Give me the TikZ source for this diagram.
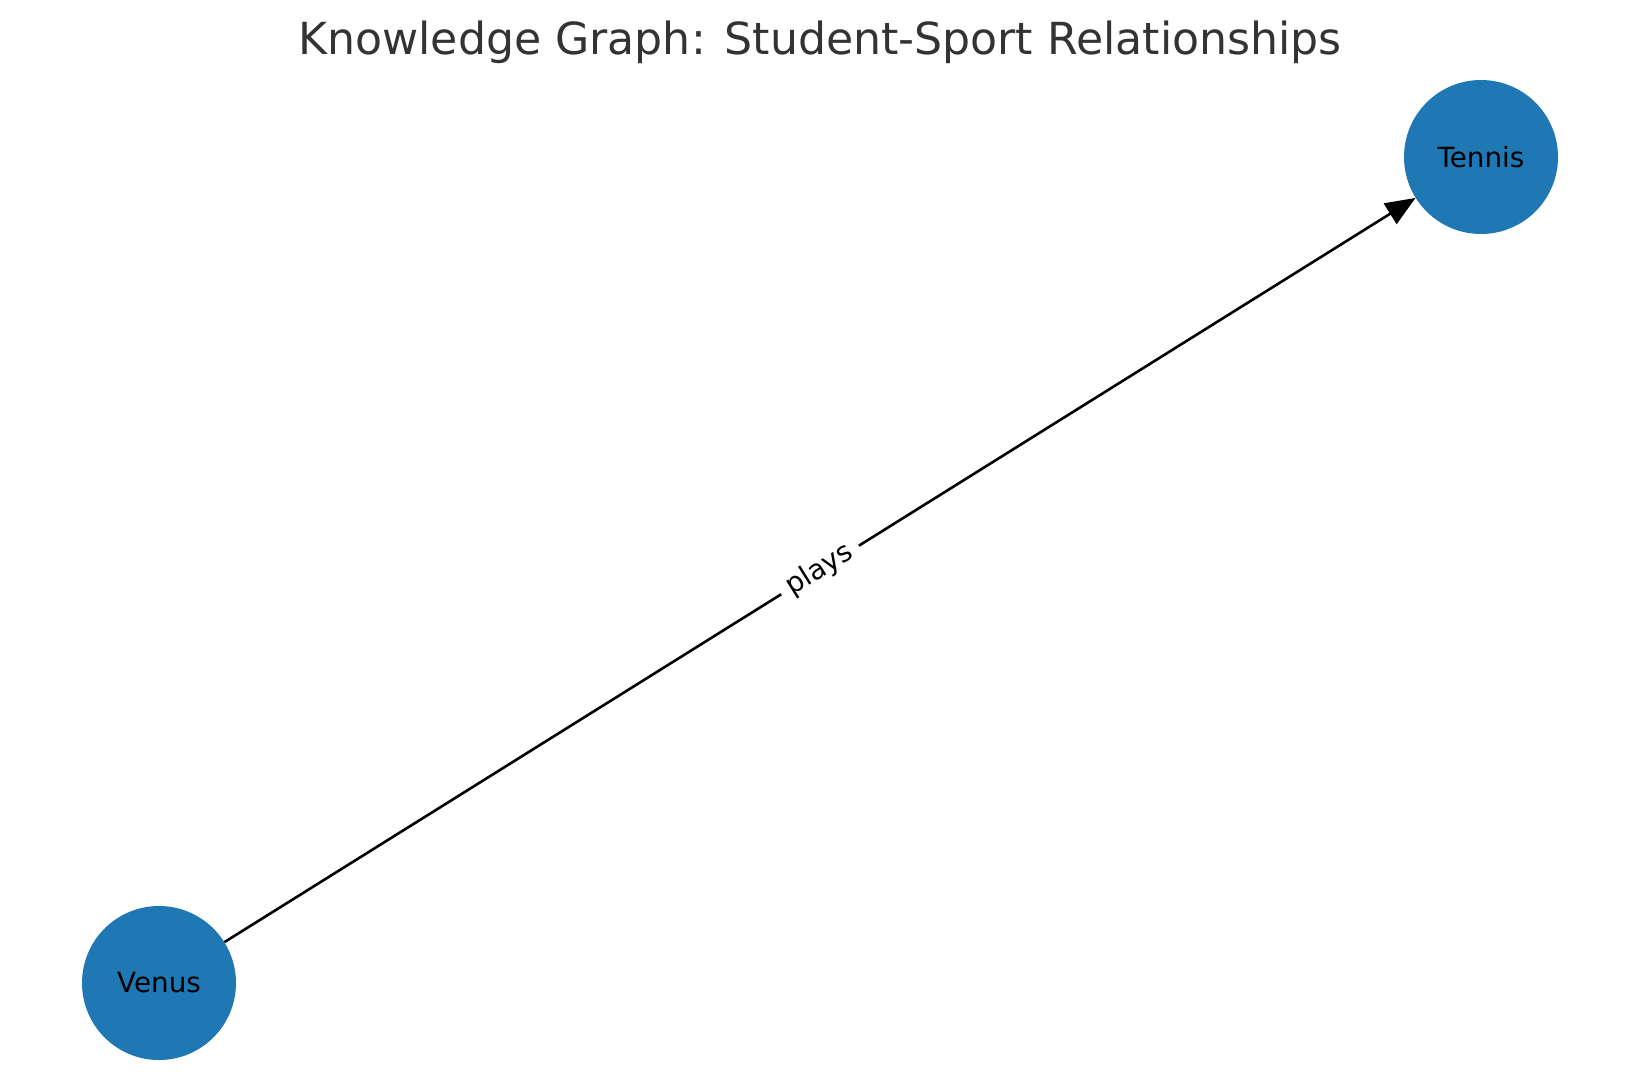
\documentclass[tikz,border=0pt]{standalone}
\usepackage{fontspec}
\setmainfont{DejaVu Sans}
\usetikzlibrary{arrows.meta}
\definecolor{nodeblue}{HTML}{1F77B4}
\definecolor{titlegray}{HTML}{333333}
\tikzset{
  entity/.style={circle, fill=nodeblue, minimum size=154pt, inner sep=0pt, font=\fontsize{27.8}{32}\selectfont, text=black},
  relation/.style={draw=black, line width=2.6pt, -{Triangle[length=30pt, width=24pt]}},
  rellabel/.style={fill=white, inner xsep=9pt, inner ysep=4pt, font=\fontsize{27.8}{32}\selectfont, sloped}
}
\begin{document}
\begin{tikzpicture}[x=1pt, y=-1pt]
\useasboundingbox[fill=white] (0,0) rectangle (1639,1090);
\node[font=\fontsize{44.2}{50}\selectfont, text=titlegray] (title) at (820,42) {Knowledge Graph: Student-Sport Relationships};
\node[entity] (venus) at (159,983) {Venus};
\node[entity] (tennis) at (1481,157) {Tennis};
\draw[relation] (venus) -- node[rellabel] (lbl) {plays} (tennis);
\end{tikzpicture}
\end{document}
